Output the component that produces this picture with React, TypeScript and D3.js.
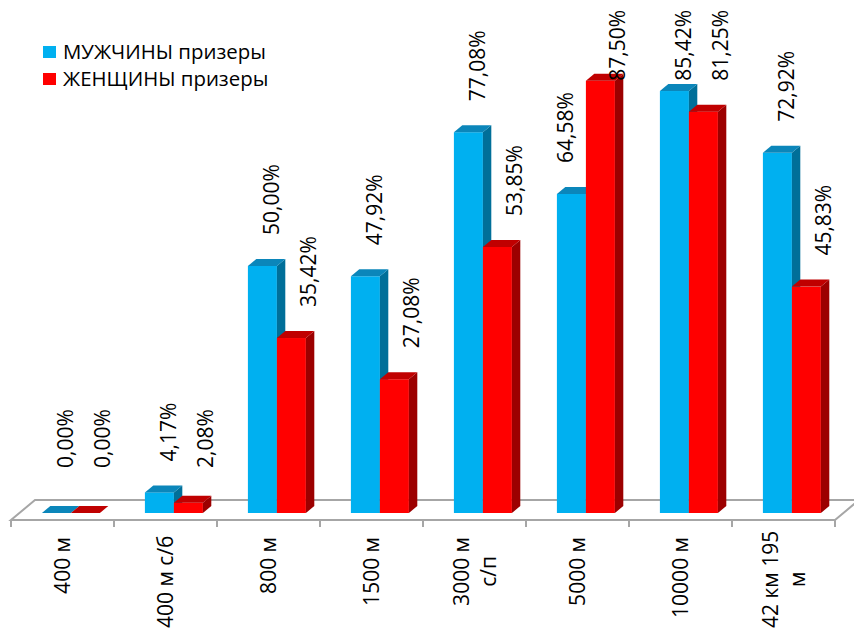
import React from 'react';
import * as d3 from 'd3';

// ---- data ----
const categories = ['400 м', '400 м с/б', '800 м', '1500 м', '3000 м с/п', '5000 м', '10000 м', '42 км 195 м'];
const seriesNames = ['МУЖЧИНЫ призеры', 'ЖЕНЩИНЫ призеры'];
const menValues = [0.0, 4.17, 50.0, 47.92, 77.08, 64.58, 85.42, 72.92];
const womenValues = [0.0, 2.08, 35.42, 27.08, 53.85, 87.5, 81.25, 45.83];
const seriesValues = [menValues, womenValues];

// ---- styles ----
const W = 854;
const H = 631;
const FONT = '"Open Sans", "DejaVu Sans", sans-serif';
const FS = 21;
const LEG_FS = 20.4;
const frontColors = ['#00B0F0', '#FF0000'];
const topColors = ['#0B86BA', '#C00000'];
const sideColors = ['#006F99', '#9C0000'];
const labelShift = [9, 17];
const gridColor = '#A6A6A6';

let ctx: CanvasRenderingContext2D | null = null;
function measure(t: string, fs = FS): number {
  if (!ctx) ctx = document.createElement('canvas').getContext('2d');
  if (!ctx) return t.length * fs * 0.55;
  ctx.font = `${fs}px ${FONT}`;
  return ctx.measureText(t).width;
}

function wrap(label: string, maxChars = 9): string[] {
  const words = label.split(' ');
  const lines: string[] = [];
  let cur = '';
  for (const w of words) {
    const t = cur ? cur + ' ' + w : w;
    if (t.length > maxChars && cur) {
      lines.push(cur);
      cur = w;
    } else cur = t;
  }
  if (cur) lines.push(cur);
  return lines;
}

const fmt = (v: number) => v.toFixed(2).replace('.', ',') + '%';

export default function App() {
  const floorY = 520;
  const floorLeft = 11;
  const floorRight = 835;
  const depthDx = 24;
  const depthDy = -20;
  const dFront = 0.35;
  const dBack = 0.7;

  const x = d3.scaleBand<string>().domain(categories).range([floorLeft, floorRight]);
  const xs = d3.scaleBand<string>().domain(seriesNames).range([0, x.bandwidth()]).paddingOuter(0.776);
  const y = d3.scaleLinear().domain([0, 100]).range([floorY, 26]);

  const fdx = depthDx * dFront;
  const fdy = depthDy * dFront;
  const ddx = depthDx * (dBack - dFront);
  const ddy = depthDy * (dBack - dFront);
  const w = xs.bandwidth();

  const floorPts = [
    [floorLeft, floorY],
    [floorRight, floorY],
    [floorRight + depthDx, floorY + depthDy],
    [floorLeft + depthDx, floorY + depthDy],
  ];

  const bars: React.ReactNode[] = [];
  const labels: React.ReactNode[] = [];
  categories.forEach((c, ci) => {
    seriesNames.forEach((s, si) => {
      const v = seriesValues[si][ci];
      const fx = (x(c) as number) + (xs(s) as number) + fdx;
      const fy0 = y(0) + fdy;
      const fy1 = y(v) + fdy;
      const top = [
        [fx, fy1],
        [fx + w, fy1],
        [fx + w + ddx, fy1 + ddy],
        [fx + ddx, fy1 + ddy],
      ];
      const side = [
        [fx + w, fy1],
        [fx + w + ddx, fy1 + ddy],
        [fx + w + ddx, fy0 + ddy],
        [fx + w, fy0],
      ];
      bars.push(
        <g key={`b${ci}-${si}`}>
          <rect x={fx} y={fy1} width={w} height={Math.max(0, fy0 - fy1)} fill={frontColors[si]} />
          <polygon points={side.map((p) => p.join(',')).join(' ')} fill={sideColors[si]} />
          <polygon points={top.map((p) => p.join(',')).join(' ')} fill={topColors[si]} />
        </g>
      );
      const text = fmt(v);
      const len = measure(text);
      let bottom = fy1 + ddy - 24;
      bottom = Math.max(10 + len, Math.min(468, bottom));
      let cx = fx + w / 2 + labelShift[si];
      if (si === 0) {
        // avoid overlapping a taller neighbouring bar
        const nextTop = y(seriesValues[1][ci]) + fdy + ddy;
        const nextFx = (x(c) as number) + (xs(seriesNames[1]) as number) + fdx;
        if (nextTop < bottom) cx = Math.min(cx, nextFx - 20);
      }
      labels.push(
        <text
          key={`l${ci}-${si}`}
          transform={`translate(${cx},${bottom}) rotate(-90)`}
          x={0}
          y={7.5}
          textAnchor="start"
          fontFamily={FONT}
          fontSize={FS}
          fill="#000"
        >
          {text}
        </text>
      );
    });
  });

  const catLabels = categories.map((c, ci) => {
    const lines = wrap(c);
    const maxLen = Math.max(...lines.map((l) => measure(l)));
    const cx = (x(c) as number) + x.bandwidth() / 2;
    const cy = Math.min(537 + maxLen / 2, H - 3 - maxLen / 2);
    const lh = 27;
    return (
      <g key={`c${ci}`}>
        {lines.map((ln, li) => (
          <text
            key={li}
            transform={`translate(${cx + (li - (lines.length - 1) / 2) * lh},${cy}) rotate(-90)`}
            x={0}
            y={7.5}
            textAnchor="middle"
            fontFamily={FONT}
            fontSize={FS}
            fill="#000"
          >
            {ln}
          </text>
        ))}
      </g>
    );
  });

  const ticks = [...categories.map((c) => x(c) as number), floorRight];

  return (
    <svg
      width={W}
      height={H}
      style={{ position: 'absolute', left: 0, top: 0, display: 'block', background: '#fff' }}
    >
      <rect x={0} y={0} width={W} height={H} fill="#fff" />
      <polygon
        points={floorPts.map((p) => p.join(',')).join(' ')}
        fill="#fff"
        stroke={gridColor}
        strokeWidth={2}
      />
      {ticks.map((t, i) => (
        <line key={i} x1={t} x2={t} y1={floorY} y2={floorY + 7} stroke={gridColor} strokeWidth={2} />
      ))}
      {bars}
      {labels}
      {catLabels}
      <g>
        {seriesNames.map((s, si) => (
          <g key={s}>
            <rect x={43} y={46 + si * 27} width={13} height={12} fill={frontColors[si]} />
            <text x={63} y={59 + si * 27} fontFamily={FONT} fontSize={LEG_FS} fill="#000">
              {s}
            </text>
          </g>
        ))}
      </g>
    </svg>
  );
}
